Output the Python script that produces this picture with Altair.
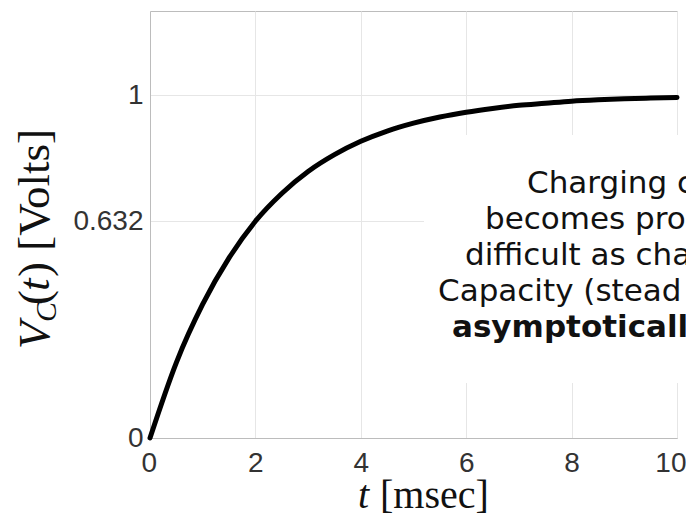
import altair as alt
import pandas as pd

# ---- data ----
t_ms = [0, 0.5, 1, 1.5, 2, 2.5, 3, 3.5, 4, 4.5, 5, 5.5, 6, 6.5, 7, 7.5, 8, 8.5, 9, 9.5, 10]
v_c = [0, 0.22, 0.39, 0.525, 0.632, 0.713, 0.777, 0.826, 0.865, 0.895, 0.918,
       0.936, 0.95, 0.961, 0.97, 0.976, 0.982, 0.986, 0.989, 0.991, 0.993]
x_ticks = [0, 2, 4, 6, 8, 10]
y_ticks = [0, 0.632, 1]
note_lines = ["Charging c", "becomes pro", "difficult as cha", "Capacity (stead", "asymptotically"]

df = pd.DataFrame({"t": t_ms, "v": v_c})
one = pd.DataFrame({"a": [0]})

W, H = 527, 427
GRID = "#e6e6e6"
FRAME = "#bcbcbc"
LAB = "#333333"

x_enc = alt.X("t:Q", scale=alt.Scale(domain=[0, 10], nice=False),
              axis=alt.Axis(values=x_ticks, title=None, grid=True, gridColor=GRID,
                            domainColor=FRAME, tickSize=0, labelPadding=11,
                            labelFont="Liberation Sans", labelFontSize=28,
                            labelColor=LAB, labelFlush=True, labelFlushOffset=9))
y_enc = alt.Y("v:Q", scale=alt.Scale(domain=[0, 1.245], nice=False),
              axis=alt.Axis(values=y_ticks, format=".3~f", title=None, grid=True,
                            gridColor=GRID, domainColor=FRAME, tickSize=0,
                            labelPadding=7, labelFont="Liberation Sans",
                            labelFontSize=28, labelColor=LAB, labelFlush=False))

curve = alt.Chart(df).mark_line(color="black", strokeWidth=5,
                                interpolate="monotone", strokeCap="round").encode(x=x_enc, y=y_enc)

# white backing box behind annotation
box = alt.Chart(one).mark_rect(color="white", clip=False).encode(
    x=alt.value(274), x2=alt.value(560), y=alt.value(124), y2=alt.value(372))

note_x = [377, 335, 315, 288, 302]
note_y = [182, 218, 254, 290, 326]
note_layers = []
for i, line in enumerate(note_lines):
    note_layers.append(
        alt.Chart(one).mark_text(
            text=line, font="DejaVu Sans", fontSize=31,
            fontWeight="bold" if i == 4 else "normal",
            color="#111111", align="left", baseline="alphabetic").encode(
            x=alt.value(note_x[i]), y=alt.value(note_y[i]))
    )

def txt(s, x, y, size, italic=False, angle=0):
    kw = dict(text=s, font="Liberation Serif", fontSize=size, color="#111111",
              align="left", baseline="alphabetic")
    if italic:
        kw["fontStyle"] = "italic"
    if angle:
        kw["angle"] = angle
    return alt.Chart(one).mark_text(**kw).encode(x=alt.value(x), y=alt.value(y))

titles = [
    txt("t", 208, 497, 40, italic=True),
    txt("[msec]", 230, 497, 40),
    txt("V", -101, 338, 45, italic=True, angle=270),
    txt("C", -94, 311, 30, italic=True, angle=270),
    txt("(", -101, 294, 45, angle=270),
    txt("t", -101, 280, 45, italic=True, angle=270),
    txt(") [Volts]", -101, 266, 45, angle=270),
]

chart = alt.layer(box, curve, *note_layers, *titles).properties(
    width=W, height=H,
    autosize=alt.AutoSizeParams(type="none"),
    padding={"left": 142, "top": 3, "right": 9, "bottom": 76},
).configure_view(stroke=FRAME, strokeWidth=1)

chart.save("out.html", embed_options={"renderer": "svg", "actions": False})
